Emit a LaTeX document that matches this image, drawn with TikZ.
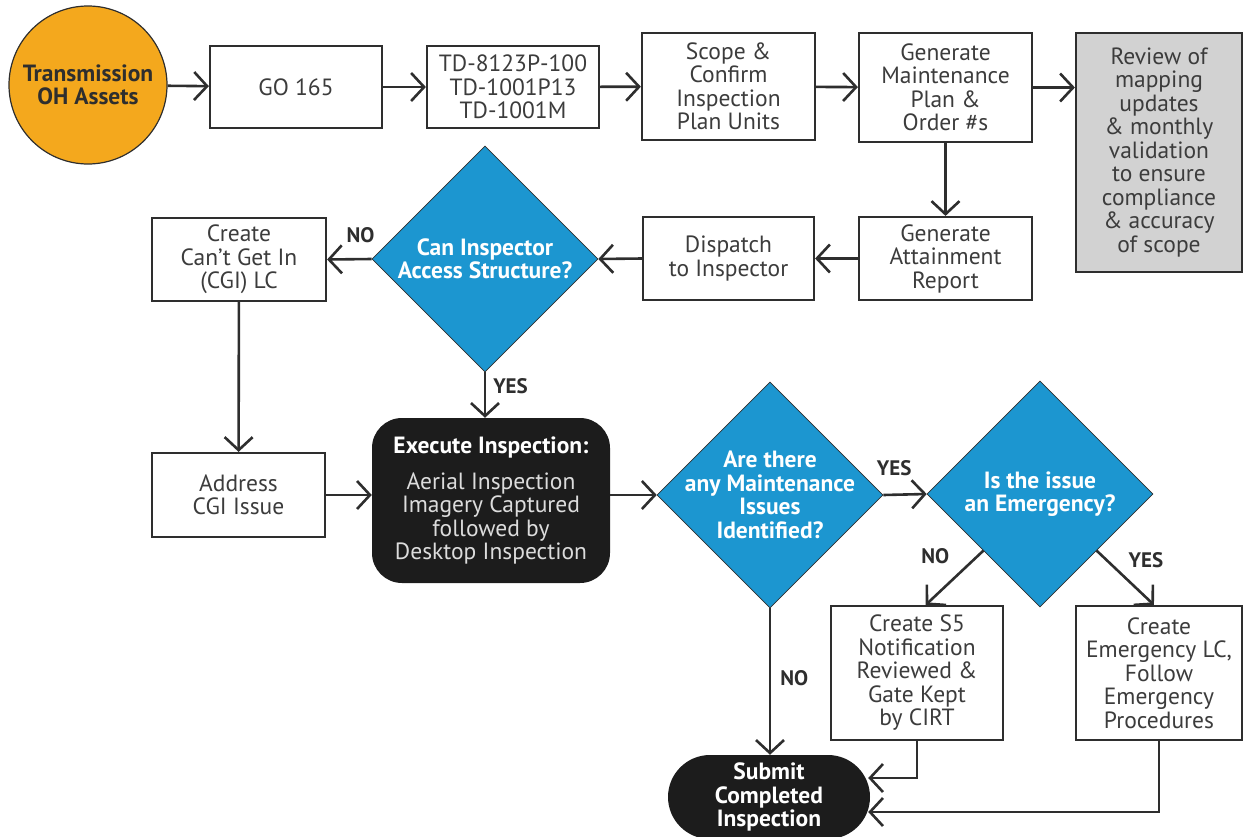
\documentclass[tikz,border=0pt]{standalone}
\usepackage{fontspec}
\setmainfont{PT Sans}
\usetikzlibrary{shapes.geometric, arrows.meta, calc}
\definecolor{pgorange}{HTML}{F4A81D}
\definecolor{pgblue}{HTML}{1C96D0}
\definecolor{pggray}{HTML}{D2D2D2}
\definecolor{pgline}{HTML}{2E2E2E}
\definecolor{pgtext}{HTML}{3C3C3C}
\definecolor{pgblack}{HTML}{1C1C1C}
\definecolor{pglight}{HTML}{DCDCDC}
\newcommand{\flowfont}{\fontsize{23.5}{23.5}\selectfont}
\newcommand{\tagfont}{\fontsize{21}{21}\selectfont\bfseries}

\begin{document}
\begin{tikzpicture}[x=1pt, y=-1pt,
        every node/.style={align=center, inner sep=0pt},
        flowbox/.style={draw=pgline, line width=2.2pt, fill=white, text=pgtext, font=\flowfont},
        decision/.style={diamond, aspect=1, draw=pgline, line width=0.6pt, fill=pgblue, minimum width=226pt, minimum height=226pt},
        dectext/.style={text=white, font=\flowfont\bfseries, align=center},
        terminal/.style={fill=pgblack, text=white, font=\flowfont},
        tag/.style={text=pgline, font=\tagfont},
        flowarrow/.style={-{Straight Barb[length=13pt,width=28pt]}, line width=2.6pt, draw=pgline}]
        \useasboundingbox (0,0) rectangle (1243,836);

        \node[circle, draw=pgline, line width=1.2pt, fill=pgorange, minimum size=158pt, text=pgline, font=\flowfont\bfseries] (assets) at (88,85) {Transmission\\OH Assets};
        \node[flowbox, minimum width=172pt, minimum height=82pt] (go) at (296,87) {GO 165};
        \node[flowbox, minimum width=172pt, minimum height=82pt] (td) at (513,87) {TD-8123P-100\\TD-1001P13\\TD-1001M};
        \node[flowbox, minimum width=173pt, minimum height=107pt] (scope) at (728.5,86.5) {Scope \&\\Confirm\\Inspection\\Plan Units};
        \node[flowbox, minimum width=173pt, minimum height=109pt] (genplan) at (945.5,87.5) {Generate\\Maintenance\\Plan \&\\Order \#s};
        \node[flowbox, fill=pggray, minimum width=166pt, minimum height=239pt] (review) at (1159,152.5) {Review of\\mapping\\updates\\\& monthly\\validation\\to ensure\\compliance\\\& accuracy\\of scope};

        \node[flowbox, minimum width=173pt, minimum height=83pt] (attain) at (945.5,258.5) {Generate\\Attainment\\Report};
        \node[flowbox, minimum width=171pt, minimum height=83pt] (dispatch) at (728.5,258.5) {Dispatch\\to Inspector};
        \node[decision, label={[dectext]center:Can Inspector\\Access Structure?}] (canaccess) at (485,259) {};
        \node[flowbox, minimum width=174pt, minimum height=83pt] (cgi) at (239,259.5) {Create\\Can’t Get In\\(CGI) LC};

        \node[flowbox, minimum width=173pt, minimum height=84pt] (address) at (238.5,495) {Address\\CGI Issue};
        \node[terminal, rounded corners=30pt, minimum width=238pt, minimum height=165pt, text=pglight] (execute) at (491,500.5) {\textcolor{white}{\bfseries Execute Inspection:}\\[12pt]Aerial Inspection\\Imagery Captured\\followed by\\Desktop Inspection};
        \node[decision, label={[dectext]center:Are there\\any Maintenance\\Issues\\Identified?}] (maint) at (770,495) {};
        \node[decision, label={[dectext]center:Is the issue\\an Emergency?}] (emerg) at (1040,494) {};

        \node[flowbox, minimum width=172pt, minimum height=134pt] (s5) at (917,673) {Create S5\\Notification\\Reviewed \&\\Gate Kept\\by CIRT};
        \node[flowbox, minimum width=166pt, minimum height=134pt] (emlc) at (1159,673) {Create\\Emergency LC,\\Follow\\Emergency\\Procedures};
        \node[terminal, rounded corners=42pt, minimum width=202pt, minimum height=84pt, font=\flowfont\bfseries] (submit) at (769,797) {Submit\\Completed\\Inspection};

        \draw[flowarrow] (assets) -- (go);
        \draw[flowarrow] (go) -- (td);
        \draw[flowarrow] (td) -- (scope);
        \draw[flowarrow] (scope) -- (genplan);
        \draw[flowarrow] (genplan.east) -- (genplan.east -| review.west);
        \draw[flowarrow] (genplan) -- (attain);
        \draw[flowarrow] (attain) -- (dispatch);
        \draw[flowarrow] (dispatch.west) -- (canaccess.east);
        \draw[flowarrow] (canaccess.west) -- node[tag, pos=0.25, above=15pt] {NO} (cgi.east);
        \draw[flowarrow] (canaccess.south) -- node[tag, pos=0.3, right=7pt] {YES} (canaccess.south |- execute.north);
        \draw[flowarrow] (cgi) -- (address);
        \draw[flowarrow] (address.east) -- (address.east -| execute.west);
        \draw[flowarrow] (execute.east |- maint.west) -- (maint.west);
        \draw[flowarrow] (maint.east) -- node[tag, pos=0.25, above=18pt] {YES} (emerg.west);
        \draw[flowarrow] (maint.south) -- node[tag, pos=0.48, right=9pt] {NO} (maint.south |- submit.north);
        \draw[flowarrow] (emerg.south west) -- node[tag, pos=0.1, left=27pt] {NO} ($(s5.north west)!0.55!(s5.north east)$);
        \draw[flowarrow] (emerg.south east) -- node[tag, pos=0.17, right=21pt] {YES} ($(emlc.north west)!0.47!(emlc.north east)$);
        \draw[flowarrow] (s5.south) |- ([xshift=-2pt,yshift=19pt]submit.east);
        \draw[flowarrow] (emlc.south) |- ([xshift=-2pt,yshift=-15pt]submit.east);
\end{tikzpicture}
\end{document}
